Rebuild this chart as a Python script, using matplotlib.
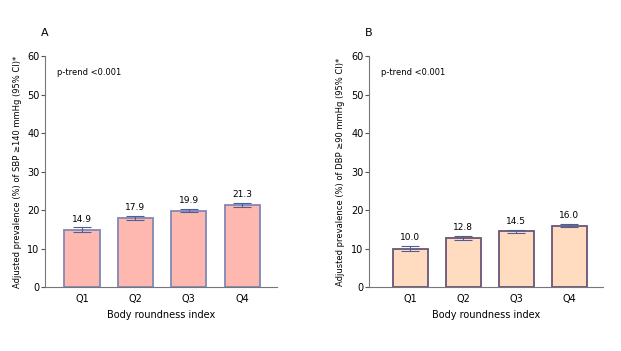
import numpy as np
import matplotlib.pyplot as plt

quartiles = ["Q1", "Q2", "Q3", "Q4"]
sbp_prev = [14.9, 17.9, 19.9, 21.3]
sbp_low = [14.3, 17.4, 19.5, 20.7]
sbp_high = [15.5, 18.4, 20.3, 21.9]
dbp_prev = [10.0, 12.8, 14.5, 16.0]
dbp_low = [9.5, 12.3, 14.1, 15.5]
dbp_high = [10.6, 13.3, 14.9, 16.5]

fig = plt.figure(figsize=(6.21, 3.51), dpi=100)


def panel(rect, vals, lo, hi, face, edge, ylabel, letter, xlim):
    ax = fig.add_axes(rect)
    x = np.arange(len(vals))
    vals = np.array(vals)
    err = [vals - np.array(lo), np.array(hi) - vals]
    ax.bar(x, vals, width=0.66, color=face, edgecolor=edge, linewidth=1.3, zorder=2)
    ax.errorbar(x, vals, yerr=err, fmt="none", ecolor="#4f5f96",
                elinewidth=0.8, capsize=6.5, capthick=0.8, zorder=3)
    for xi, v, h in zip(x, vals, hi):
        ax.text(xi, h + 1.0, f"{v:.1f}", ha="center", va="bottom", fontsize=6.5)
    ax.set_xlim(*xlim)
    ax.set_ylim(0, 60)
    ax.set_yticks(range(0, 61, 10))
    ax.set_xticks(x)
    ax.set_xticklabels(quartiles)
    ax.tick_params(axis="x", length=0, labelsize=7, pad=5)
    ax.tick_params(axis="y", length=3, width=0.8, labelsize=7, pad=1, color="#555555")
    for s in ["top", "right"]:
        ax.spines[s].set_visible(False)
    for s in ["left", "bottom"]:
        ax.spines[s].set_color("#777777")
        ax.spines[s].set_linewidth(0.8)
    ax.set_xlabel("Body roundness index", fontsize=7, labelpad=4)
    ax.set_ylabel(ylabel, fontsize=6, labelpad=4)
    ax.text(0.05, 0.93, "p-trend <0.001", transform=ax.transAxes, fontsize=6,
            ha="left", va="center")
    ax.text(0.0, 1.08, letter, transform=ax.transAxes, fontsize=8,
            ha="center", va="bottom")
    return ax


panel([0.0725, 0.182, 0.3735, 0.658], sbp_prev, sbp_low, sbp_high,
      "#ffb8b0", "#8088b8",
      "Adjusted prevalence (%) of SBP \u2265140 mmHg (95% CI)*", "A",
      (-0.69, 3.65))
panel([0.594, 0.182, 0.377, 0.658], dbp_prev, dbp_low, dbp_high,
      "#ffdcc0", "#6a5478",
      "Adjusted prevalence (%) of DBP \u226590 mmHg (95% CI)*", "B",
      (-0.78, 3.64))

fig.savefig("out.png", dpi=100)
